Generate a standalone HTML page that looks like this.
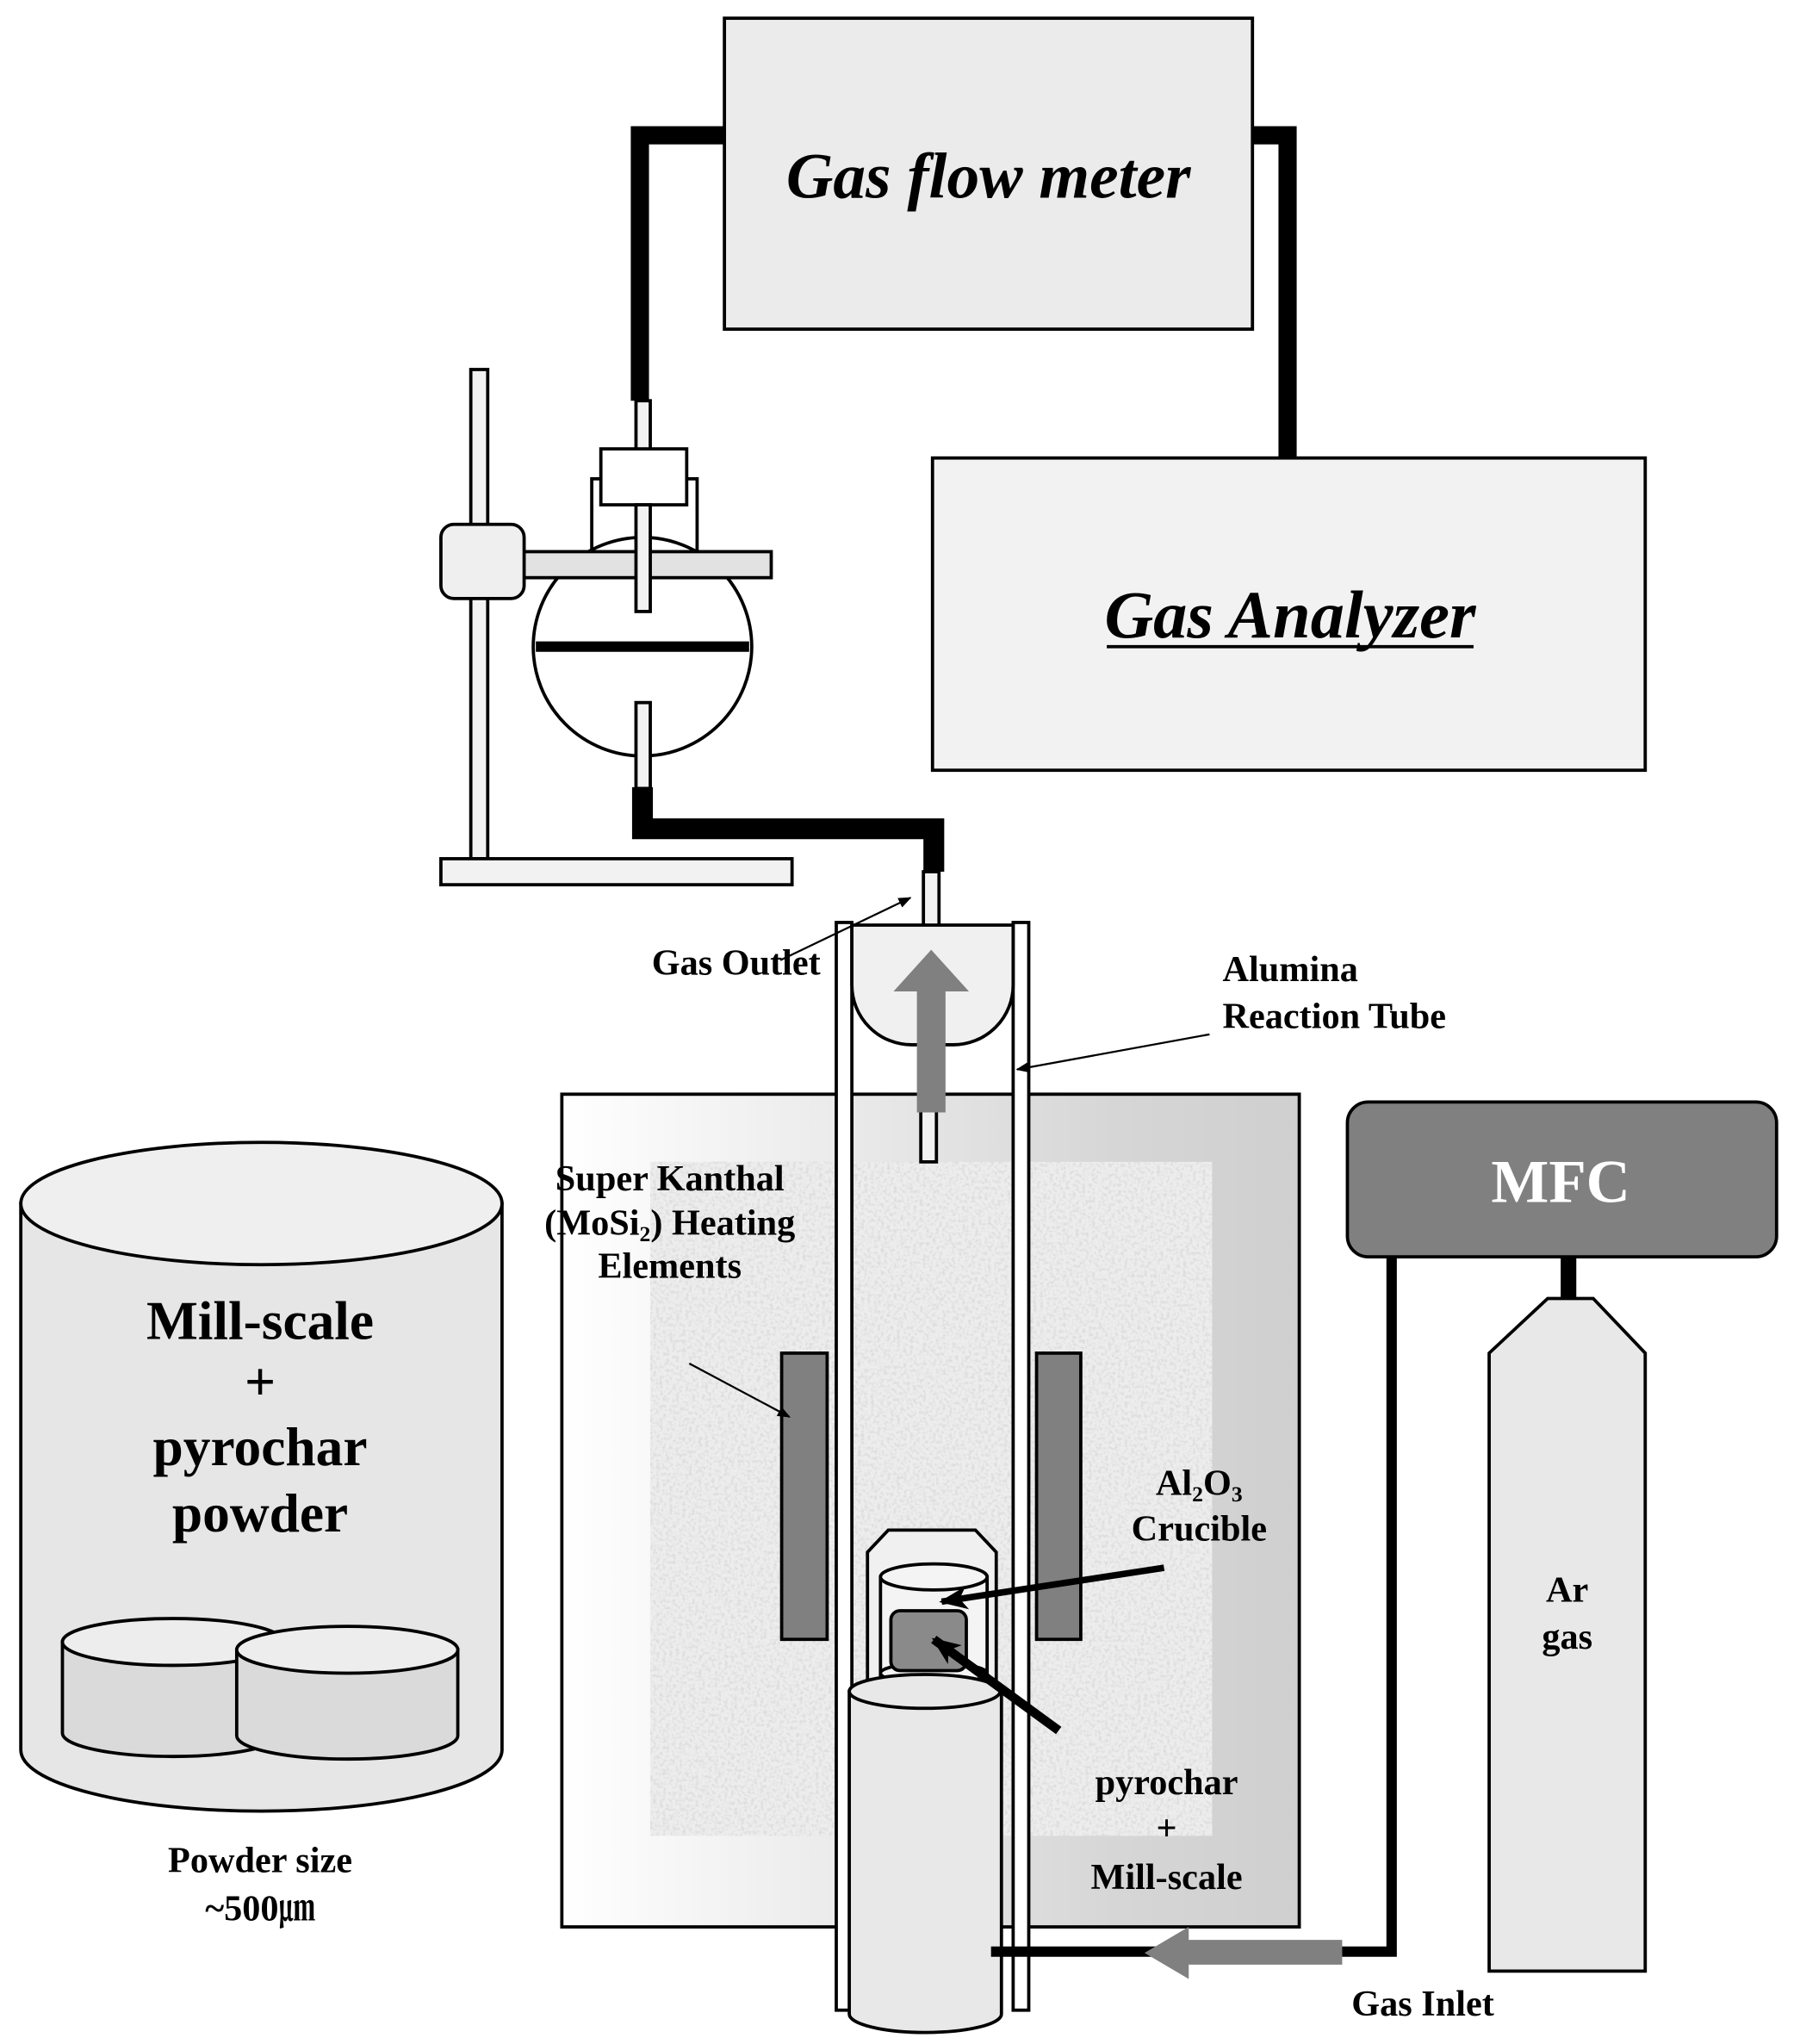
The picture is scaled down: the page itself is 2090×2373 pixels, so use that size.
<!DOCTYPE html>
<html><head><style>html,body{margin:0;padding:0;background:#fff}svg{display:block}
text{font-family:"Liberation Serif","Noto Serif CJK SC",serif;font-weight:bold;fill:#000}</style></head>
<body>
<svg width="2090" height="2373" viewBox="0 0 1384 1571" preserveAspectRatio="none" xmlns="http://www.w3.org/2000/svg">
<defs>
<linearGradient id="fg" x1="0" x2="1" y1="0" y2="0"><stop offset="0" stop-color="#ffffff"/><stop offset="0.75" stop-color="#d6d6d6"/><stop offset="1" stop-color="#cfcfcf"/></linearGradient>
<filter id="noise" x="0" y="0" width="100%" height="100%"><feTurbulence type="fractalNoise" baseFrequency="0.4" numOctaves="2" seed="3"/><feColorMatrix type="matrix" values="0 0 0 0 0.72  0 0 0 0 0.72  0 0 0 0 0.72  -3 0 0 0 1.7"/></filter>
<marker id="ah" markerWidth="10" markerHeight="8" refX="9" refY="4" orient="auto" markerUnits="userSpaceOnUse"><path d="M0,0 L10,4 L0,8z" fill="#000"/></marker>
<marker id="ah2" markerWidth="22" markerHeight="18" refX="20" refY="9" orient="auto" markerUnits="userSpaceOnUse"><path d="M0,0 L22,9 L0,18 L6,9z" fill="#000"/></marker>
</defs>
<g stroke="#000" stroke-width="2.5">
<rect x="557" y="14" width="406" height="239" fill="#ebebeb"/>
<rect x="717" y="352" width="548" height="240" fill="#f2f2f2"/>
</g>
<text x="760" y="152" font-size="50" font-style="italic" text-anchor="middle">Gas flow meter</text>
<text x="992" y="490" font-size="52" font-style="italic" text-anchor="middle">Gas Analyzer</text>
<line x1="851" y1="497" x2="1133" y2="497" stroke="#000" stroke-width="2.5"/>
<path d="M557,104 H492 V308" fill="none" stroke="#000" stroke-width="14"/>
<path d="M963,104 H990 V352" fill="none" stroke="#000" stroke-width="14"/>
<path d="M494,605 V637 H718 V670" fill="none" stroke="#000" stroke-width="16"/>
<g stroke="#000" stroke-width="2.5">
<rect x="362" y="284" width="13" height="376" fill="#f2f2f2"/>
<rect x="339" y="660" width="270" height="20" fill="#f2f2f2"/>
<rect x="489" y="308" width="11" height="40" fill="#f2f2f2"/>
<rect x="455" y="368" width="81" height="56" fill="#fff"/>
<rect x="462" y="345" width="66" height="43" fill="#fff"/>
<circle cx="494" cy="497" r="84" fill="#fff"/>
<rect x="397" y="424" width="196" height="20" fill="#e2e2e2"/>
<rect x="339" y="403" width="64" height="57" rx="10" fill="#efefef"/>
<rect x="489" y="388" width="11" height="82" fill="#f2f2f2"/>
<rect x="489" y="540" width="11" height="66" fill="#f2f2f2"/>
</g>
<line x1="412" y1="497" x2="576" y2="497" stroke="#000" stroke-width="8"/>
<rect x="432" y="841" width="567" height="640" fill="url(#fg)" stroke="#000" stroke-width="2.5"/>
<rect x="500" y="893" width="432" height="518" fill="#ededed"/>
<rect x="500" y="893" width="432" height="518" filter="url(#noise)"/>
<g stroke="#000" stroke-width="2.5">
<rect x="601" y="1040" width="35" height="220" fill="#808080"/>
<rect x="797" y="1040" width="34" height="220" fill="#808080"/>
<rect x="643" y="709" width="12" height="836" fill="#fff"/>
<rect x="779" y="709" width="12" height="836" fill="#fff"/>
<rect x="710" y="670" width="12" height="42" fill="#f2f2f2"/>
<path d="M655,711 H779 V757 A46,46 0 0 1 733,803 H701 A46,46 0 0 1 655,757 Z" fill="#f0f0f0"/>
<rect x="708" y="845" width="12" height="48" fill="#f2f2f2"/>
<path d="M667,1300 V1193 L683,1176 H750 L766,1193 V1300 Z" fill="#f0f0f0"/>
<path d="M677,1290 V1212 H759 V1290 Z" fill="#f4f4f4"/>
<ellipse cx="718" cy="1212" rx="41" ry="10" fill="#f4f4f4"/>
<ellipse cx="718" cy="1286" rx="41" ry="8" fill="#f4f4f4"/>
<rect x="685" y="1238" width="58" height="46" rx="7" fill="#8a8a8a"/>
<path d="M653,1300 V1548 A58,14 0 0 0 770,1548 V1300 Z" fill="#e8e8e8"/>
<ellipse cx="711" cy="1300" rx="58" ry="13" fill="#e8e8e8"/>
</g>
<path d="M705,855 V762 H687 L716,730 L745,762 H727 V855 Z" fill="#808080"/>
<line x1="895" y1="1205" x2="724" y2="1231" stroke="#000" stroke-width="5" marker-end="url(#ah2)"/>
<line x1="814" y1="1330" x2="718" y2="1260" stroke="#000" stroke-width="7" marker-end="url(#ah2)"/>
<line x1="530" y1="1048" x2="607" y2="1089" stroke="#000" stroke-width="1.5" marker-end="url(#ah)"/>
<line x1="600" y1="738" x2="700" y2="690" stroke="#000" stroke-width="1.5" marker-end="url(#ah)"/>
<line x1="930" y1="795" x2="782" y2="822" stroke="#000" stroke-width="1.5" marker-end="url(#ah)"/>
<path d="M1070,966 V1500 H1030" fill="none" stroke="#000" stroke-width="8"/>
<line x1="762" y1="1500" x2="890" y2="1500" stroke="#000" stroke-width="8"/>
<path d="M1032,1491 H914 V1481 L880,1501 L914,1521 V1510 H1032 Z" fill="#808080"/>
<rect x="1036" y="847" width="330" height="119" rx="16" fill="#808080" stroke="#000" stroke-width="2.5"/>
<text x="1200" y="924" font-size="47" text-anchor="middle" style="fill:#fff">MFC</text>
<rect x="1200" y="966" width="12" height="34" fill="#000"/>
<path d="M1145,1515 V1040 L1190,998 H1225 L1265,1040 V1515 Z" fill="#e8e8e8" stroke="#000" stroke-width="2.5"/>
<g stroke="#000" stroke-width="2.5">
<path d="M16,925 V1345 A185,47 0 0 0 386,1345 V925 Z" fill="#e6e6e6"/>
<ellipse cx="201" cy="925" rx="185" ry="47" fill="#efefef"/>
<path d="M48,1262 V1332 A85,18 0 0 0 218,1332 V1262 Z" fill="#dadada"/>
<ellipse cx="133" cy="1262" rx="85" ry="18" fill="#ededed"/>
<path d="M182,1268 V1334 A85,18 0 0 0 352,1334 V1268 Z" fill="#dadada"/>
<ellipse cx="267" cy="1268" rx="85" ry="18" fill="#ededed"/>
</g>
<g font-size="28" text-anchor="middle">
<text x="515" y="915">Super Kanthal</text>
<text x="515" y="949">(MoSi<tspan font-size="17" dy="5">2</tspan><tspan dy="-5">) Heating</tspan></text>
<text x="515" y="982">Elements</text>
<text x="566" y="749">Gas Outlet</text>
<text x="940" y="754" text-anchor="start">Alumina</text>
<text x="940" y="790" text-anchor="start">Reaction Tube</text>
<text x="922" y="1149">Al<tspan font-size="17" dy="5">2</tspan><tspan dy="-5">O</tspan><tspan font-size="17" dy="5">3</tspan></text>
<text x="922" y="1184">Crucible</text>
<text x="897" y="1379">pyrochar</text>
<text x="897" y="1414" font-weight="normal">+</text>
<text x="897" y="1452">Mill-scale</text>
<text x="1094" y="1549">Gas Inlet</text>
<text x="1205" y="1231">Ar</text>
<text x="1205" y="1267">gas</text>
<text x="200" y="1439">Powder size</text>
<text x="200" y="1476">~500㎛</text>
</g>
<g font-size="42" text-anchor="middle">
<text x="200" y="1029">Mill-scale</text>
<text x="200" y="1076" font-weight="normal">+</text>
<text x="200" y="1126">pyrochar</text>
<text x="200" y="1177">powder</text>
</g>
</svg>
</body></html>
